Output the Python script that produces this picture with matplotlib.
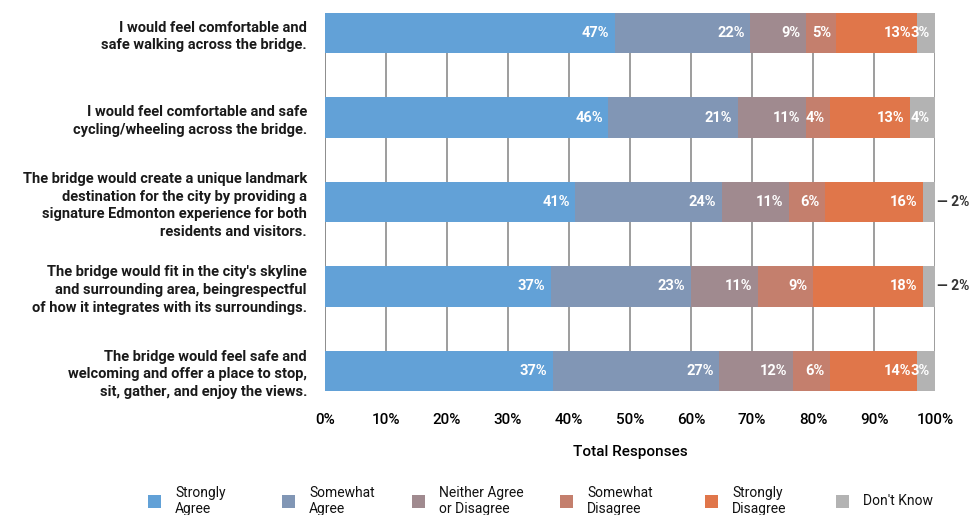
import numpy as np
import matplotlib.pyplot as plt
from matplotlib.patches import Rectangle

plt.rcParams['font.family'] = ['Roboto', 'DejaVu Sans']

statements = [
    "I would feel comfortable and\nsafe walking across the bridge.",
    "I would feel comfortable and safe\ncycling/wheeling across the bridge.",
    "The bridge would create a unique landmark\ndestination for the city by providing a\nsignature Edmonton experience for both\nresidents and visitors.",
    "The bridge would fit in the city's skyline\nand surrounding area, beingrespectful\nof how it integrates with its surroundings.",
    "The bridge would feel safe and\nwelcoming and offer a place to stop,\nsit, gather, and enjoy the views.",
]
categories = ["Strongly\nAgree", "Somewhat\nAgree", "Neither Agree\nor Disagree",
              "Somewhat\nDisagree", "Strongly\nDisagree", "Don't Know"]
strongly_agree    = [47, 46, 41, 37, 37]
somewhat_agree    = [22, 21, 24, 23, 27]
neither           = [9, 11, 11, 11, 12]
somewhat_disagree = [5, 4, 6, 9, 6]
strongly_disagree = [13, 13, 16, 18, 14]
dont_know         = [3, 4, 2, 2, 3]
colors = ['#62a1d7', '#8196b5', '#a08a8f', '#c47f6d', '#e0764a', '#b3b3b3']

series = np.array([strongly_agree, somewhat_agree, neither,
                   somewhat_disagree, strongly_disagree, dont_know], dtype=float)
shares = series / series.sum(axis=0) * 100

W, H = 971, 515
fig = plt.figure(figsize=(W / 100, H / 100), dpi=100)
ax = fig.add_axes([325 / W, 1 - 391 / H, 610 / W, 378 / H])

y = np.arange(len(statements))
h = 0.475
left = np.zeros(len(statements))
for i in range(len(categories)):
    ax.barh(y, shares[i], left=left, height=h, color=colors[i], zorder=2)
    for j in range(len(statements)):
        end = left[j] + shares[i][j]
        lab = f"{int(series[i][j])}%"
        if series[i][j] <= 2:
            ax.text(100.4, y[j], "— " + lab, ha='left', va='center',
                    fontsize=10, fontweight='bold', color='#333333')
        else:
            ax.text(end - 0.9, y[j], lab, ha='right', va='center',
                    fontsize=10.5, fontweight='bold', color='white', zorder=3)
    left += shares[i]

ax.set_xlim(0, 100)
ax.set_ylim(len(statements) - 1 + h / 2, -h / 2)
ax.set_xticks(np.arange(0, 101, 10))
ax.set_xticklabels([f"{v}%" for v in range(0, 101, 10)], fontsize=11, fontweight='medium')
ax.set_yticks(y)
ax.set_yticklabels(statements, fontsize=10.5, fontweight='bold', linespacing=1.35,
                   color='#1a1a1a')
ax.tick_params(axis='both', length=0)
ax.tick_params(axis='x', pad=16)
ax.tick_params(axis='y', pad=13)
ax.xaxis.grid(True, color='#8c8c8c', linewidth=1.2, zorder=0)
ax.set_axisbelow(True)
for s in ax.spines.values():
    s.set_visible(False)
ax.axvline(0, color='#8c8c8c', linewidth=1.2, zorder=0)
ax.set_xlabel("Total Responses", fontsize=11, fontweight='medium', labelpad=13)

# legend drawn by hand to match the uneven spacing
leg_x = [148, 282, 412, 560, 705, 836]
for lx, c, lab in zip(leg_x, colors, categories):
    fig.add_artist(Rectangle((lx / W, 1 - 508 / H), 13 / W, 13 / H,
                             transform=fig.transFigure, facecolor=c, edgecolor='none'))
    fig.text((lx + 27) / W, 1 - 501 / H, lab, ha='left', va='center',
             fontsize=10, linespacing=1.15, color='#111111')

plt.savefig('out.png', dpi=100)
